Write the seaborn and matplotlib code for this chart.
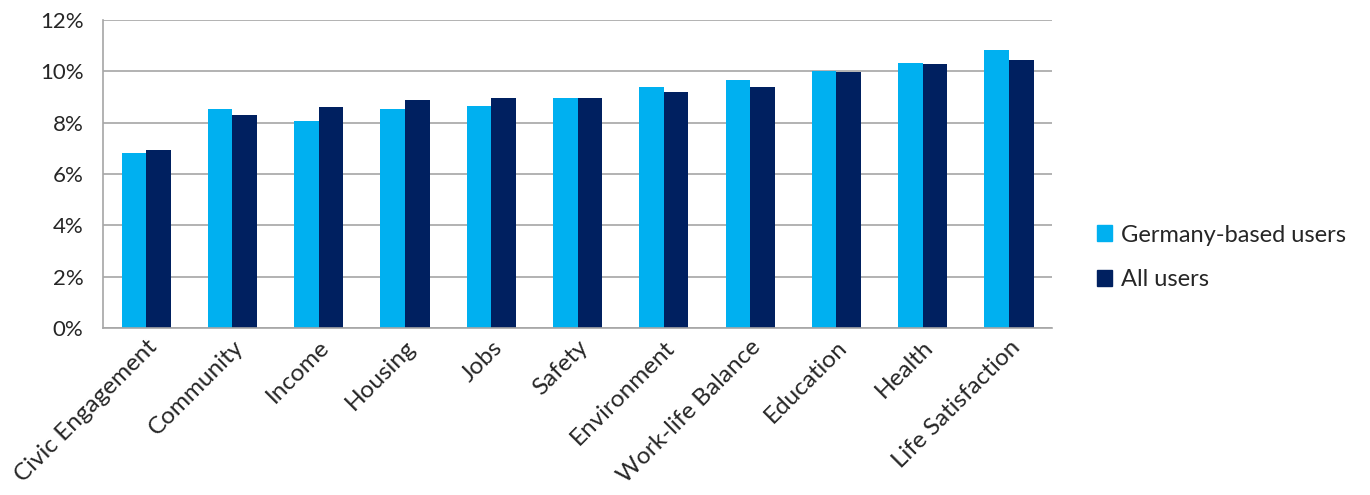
import matplotlib
matplotlib.use('Agg')
import matplotlib.pyplot as plt
from matplotlib.patches import Patch
from matplotlib.ticker import PercentFormatter
import pandas as pd
import seaborn as sb

categories = ['Civic Engagement', 'Community', 'Income', 'Housing', 'Jobs', 'Safety',
              'Environment', 'Work-life Balance', 'Education', 'Health', 'Life Satisfaction']
germany = [6.81, 8.52, 8.08, 8.52, 8.67, 8.97, 9.41, 9.67, 10.01, 10.32, 10.82]
all_users = [6.92, 8.32, 8.62, 8.87, 8.97, 8.97, 9.18, 9.38, 9.97, 10.27, 10.43]
series = ['Germany-based users', 'All users']
colors = ['#00B0F0', '#002060']

df = pd.DataFrame({
    'category': categories * 2,
    'value': germany + all_users,
    'group': [series[0]] * len(categories) + [series[1]] * len(categories),
})

sb.set_style('white')
plt.rcParams['font.family'] = ['Lato', 'DejaVu Sans']

fig = plt.figure(figsize=(13.7, 4.95), dpi=100)
ax = fig.add_axes([0.0752, 0.337, 0.6928, 0.6226])

sb.barplot(data=df, x='category', y='value', hue='group', palette=colors,
           width=0.57, gap=0, saturation=1, linewidth=0, ax=ax, legend=False)

ax.set_ylim(0, 12)
ax.set_yticks(range(0, 13, 2))
ax.yaxis.set_major_formatter(PercentFormatter(decimals=0))
ax.grid(axis='y', color='#A6A6A6', lw=1.2)
ax.set_axisbelow(True)
ax.set_xlabel('')
ax.set_ylabel('')
for s in ['top', 'right']:
    ax.spines[s].set_visible(False)
for s in ['left', 'bottom']:
    ax.spines[s].set_color('#A6A6A6')
    ax.spines[s].set_linewidth(1.2)
ax.tick_params(axis='y', length=0, pad=14, labelsize=16, labelcolor='#262626')
ax.tick_params(axis='x', length=0, pad=6, labelsize=17.5, labelcolor='#262626')
plt.setp(ax.get_xticklabels(), rotation=45, ha='right', rotation_mode='anchor')

handles = [Patch(color=c, label=l) for c, l in zip(colors, series)]
fig.legend(handles=handles, loc='center left', bbox_to_anchor=(0.785, 0.48),
           frameon=False, fontsize=17, handlelength=0.65, handleheight=0.65,
           handletextpad=0.4, labelspacing=1.0, labelcolor='#262626')

fig.savefig('out.png', dpi=100)
